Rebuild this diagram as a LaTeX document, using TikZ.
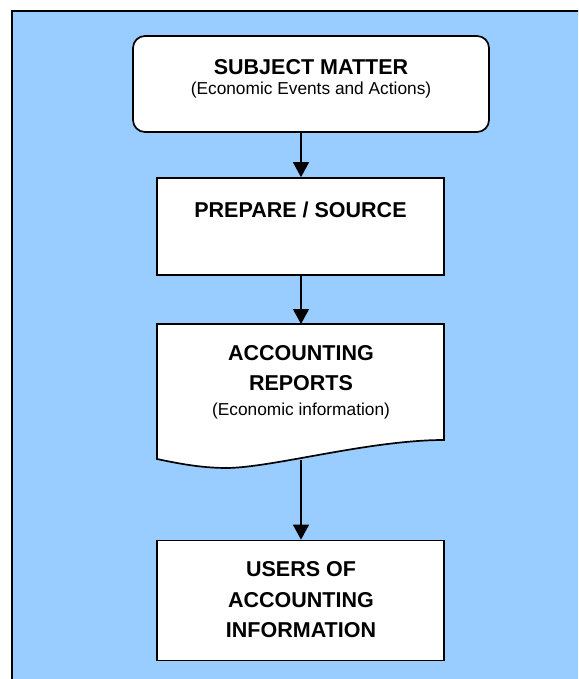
\documentclass[tikz,border=0pt]{standalone}
\usepackage{fontspec}
\setmainfont{Liberation Sans}
\usetikzlibrary{arrows.meta}
\definecolor{bgblue}{RGB}{153,204,255}
\tikzset{
  boxline/.style={draw=black, line width=1.7pt, fill=white},
  ttl/.style={font=\fontsize{21.5}{30}\selectfont\bfseries, anchor=base, inner sep=0pt},
  subt/.style={font=\fontsize{17.3}{22}\selectfont, anchor=base, inner sep=0pt},
  arr/.style={line width=1.3pt, -{Triangle[width=16pt,length=15pt]}}
}
\begin{document}
\begin{tikzpicture}[x=1pt,y=-1pt]
\useasboundingbox (0,0) rectangle (578,679);
\clip (0,0) rectangle (578,679);
% background panel
\fill[bgblue] (12,11) rectangle (600,700);
\draw[line width=2pt] (12,700) -- (12,11) -- (600,11);
% boxes
\node[boxline, rounded corners=12pt, minimum width=356pt, minimum height=96pt, inner sep=0pt] (subj) at (311,84) {};
\node[boxline, minimum width=287pt, minimum height=97pt, inner sep=0pt] (prep) at (300.5,226.5) {};
\draw[boxline] (157,324) -- (444,324) -- (444,440)
  .. controls (370,440) and (275,467) .. (228,468)
  .. controls (205,468) and (185,465) .. (157,459) -- cycle;
\coordinate (doctop) at (301,324);
\coordinate (docbot) at (301,460);
\node[boxline, minimum width=287pt, minimum height=120pt, inner sep=0pt] (users) at (300.5,600.5) {};
% texts
\node[ttl] (t1) at (311,75) {SUBJECT MATTER};
\node[subt] (s1) at (311,95) {(Economic Events and Actions)};
\node[ttl] (t2) at (300.5,217) {PREPARE / SOURCE};
\node[ttl] (t3a) at (301,360) {ACCOUNTING};
\node[ttl] (t3b) at (301,390) {REPORTS};
\node[subt] (s3) at (301,415) {(Economic information)};
\node[ttl] (t4a) at (301,576) {USERS OF};
\node[ttl] (t4b) at (301,607) {ACCOUNTING};
\node[ttl] (t4c) at (301,637) {INFORMATION};
% arrows
\draw[arr] (subj.south -| 301,0) -- (prep.north -| 301,0);
\draw[arr] (prep.south -| 301,0) -- (doctop);
\draw[arr] (docbot) -- (users.north -| 301,0);
\end{tikzpicture}
\end{document}
